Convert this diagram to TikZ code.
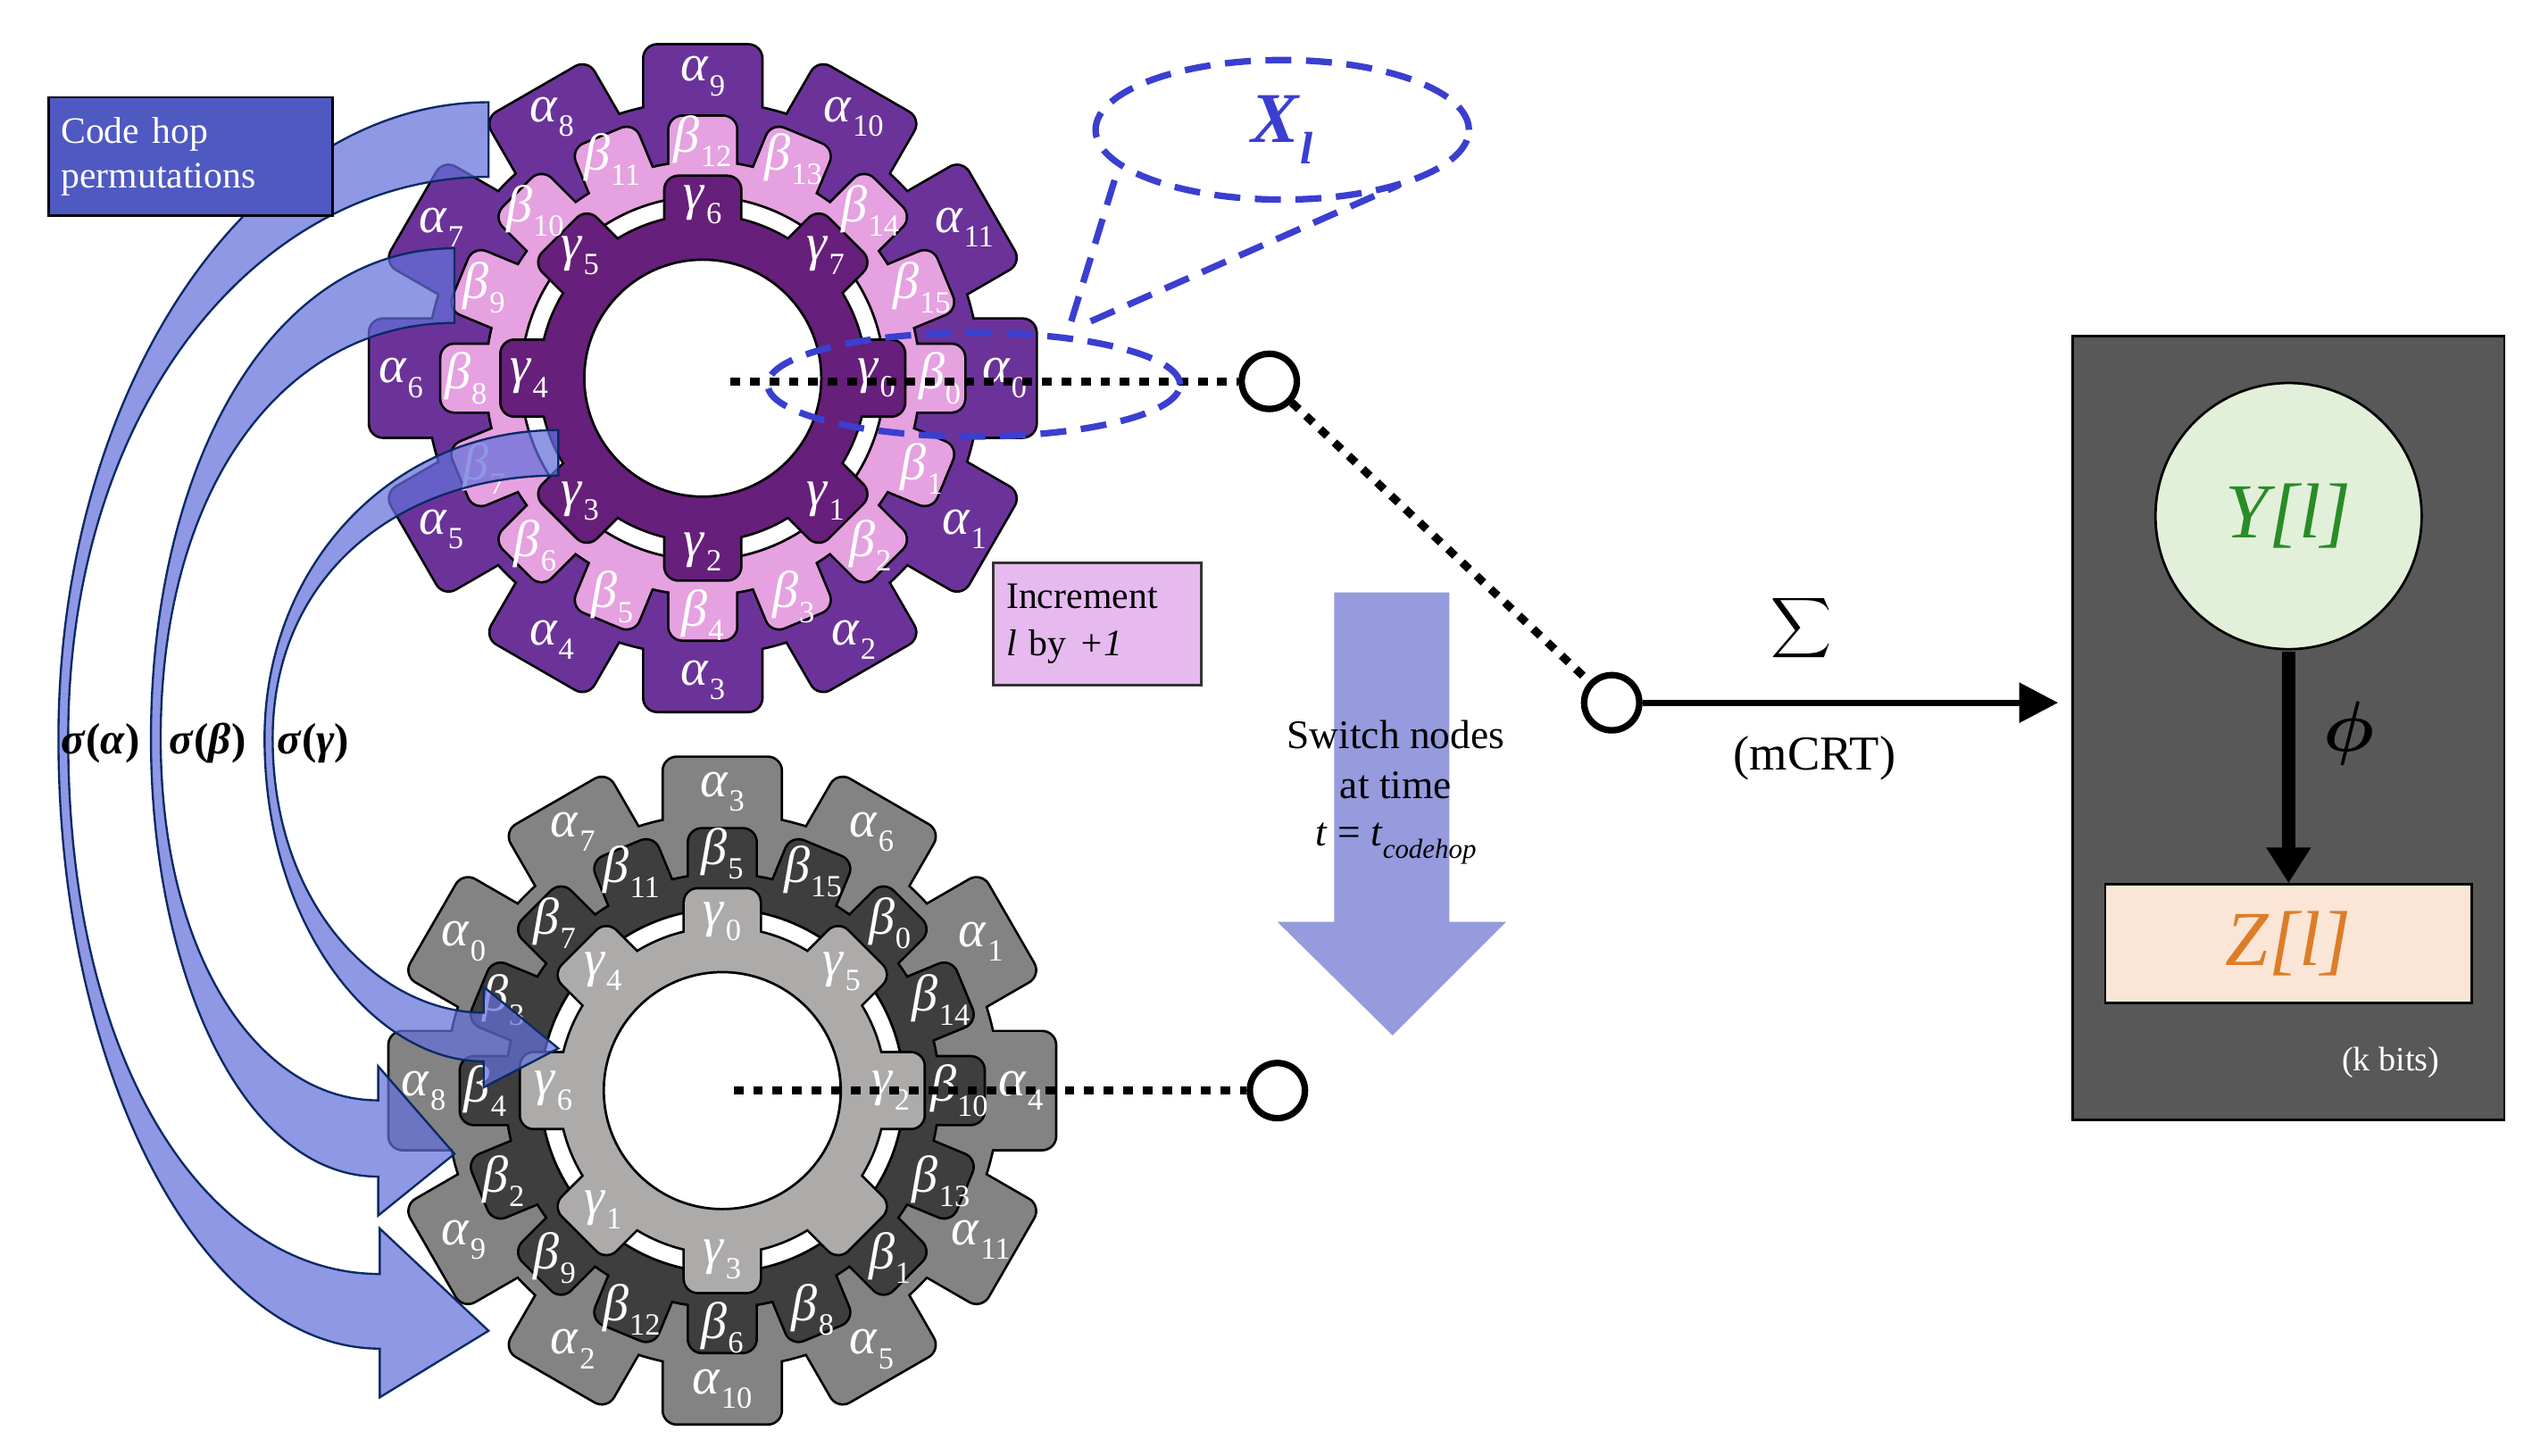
\RequirePackage{fix-cm}
\documentclass[tikz,border=0pt]{standalone}
\usepackage{amsmath,bm,graphicx}
\usepackage{fontspec}
\setmainfont{Liberation Serif}
\usetikzlibrary{arrows.meta,shapes.geometric}
\definecolor{pA}{HTML}{6B3399}
\definecolor{pB}{HTML}{E6A1E0}
\definecolor{pG}{HTML}{661F7A}
\definecolor{gA}{HTML}{838383}
\definecolor{gB}{HTML}{3E3E3E}
\definecolor{gG}{HTML}{ADAAAA}
\definecolor{dblue}{HTML}{3A3FD0}
\definecolor{abl}{HTML}{6470DA}
\definecolor{navy}{HTML}{0A2A64}
\definecolor{codebox}{RGB}{79,89,194}
\definecolor{incbox}{RGB}{230,185,239}
\definecolor{downar}{RGB}{149,155,220}
\definecolor{darkbox}{RGB}{88,88,88}
\definecolor{yfill}{RGB}{226,239,217}
\definecolor{ytext}{RGB}{40,140,40}
\definecolor{zfill}{RGB}{251,229,214}
\definecolor{ztext}{RGB}{220,125,40}
\newcommand\myring[6]{% cx cy diskr tipr width color ; teeth every angle in \teeth
  \foreach \a in \teeth {\begin{scope}[shift={(#1,#2)},rotate=-\a]
    \draw[line width=3pt,rounded corners=8pt] (#3-25,-#5/2) rectangle (#4,#5/2);\end{scope}}
  \draw[line width=3pt] (#1,#2) circle[radius=#3];
  \foreach \a in \teeth {\begin{scope}[shift={(#1,#2)},rotate=-\a]
    \fill[#6,rounded corners=8pt] (#3-25,-#5/2) rectangle (#4,#5/2);\end{scope}}
  \fill[#6] (#1,#2) circle[radius=#3];
}
\newcommand\gl[2]{\textit{#1}\kern0.5pt\raisebox{-0.28em}{\fontsize{19}{19}\selectfont #2}}
\tikzset{lab/.style={text=white,font=\fontsize{32}{32}\selectfont,inner sep=0pt},
 dotl/.style={line width=5pt,dash pattern=on 6pt off 6pt},
 dsh/.style={draw=dblue,line width=4pt,dash pattern=on 16pt off 9pt},
 band/.style={fill=abl,fill opacity=0.72,draw=navy,line width=1.3pt},
 txt/.style={font=\fontsize{23}{23}\selectfont,inner sep=0pt}}
\begin{document}
\begin{tikzpicture}[x=1pt,y=-1pt]
\useasboundingbox (0,0) rectangle (1560,897);
% ---- top gear
\def\teeth{0,30,...,330}\myring{433}{233}{170}{205}{72}{pA}
\def\teeth{0,22.5,...,337.5}\myring{433}{233}{133}{161}{41}{pB}
\filldraw[fill=white,line width=1.5pt] (433,233) circle[radius=112];
\def\teeth{0,45,...,315}\myring{433}{233}{100}{124}{46}{pG}
\filldraw[fill=white,line width=1.5pt] (433,233) circle[radius=73];
\foreach \i in {0,...,11} \node[lab] (ta\i) at ([shift={(30*\i:186)}]433,233) {\gl{α}{\i}};
\foreach \i in {0,...,15} \node[lab] (tb\i) at ([shift={(22.5*\i:146)}]433,233) {\gl{β}{\i}};
\foreach \i in {0,...,7} \node[lab] (tg\i) at ([shift={(45*\i:107)}]433,233) {\gl{γ}{\i}};
% ---- bottom gear
\def\teeth{0,30,...,330}\myring{445}{672}{170}{205}{72}{gA}
\def\teeth{0,22.5,...,337.5}\myring{445}{672}{133}{161}{41}{gB}
\filldraw[fill=white,line width=1.5pt] (445,672) circle[radius=112];
\def\teeth{0,45,...,315}\myring{445}{672}{100}{124}{46}{gG}
\filldraw[fill=white,line width=1.5pt] (445,672) circle[radius=73];
\foreach \n [count=\i from 0] in {3,6,1,4,11,5,10,2,9,8,0,7}
  \node[lab] (ba\n) at ([shift={(-90+30*\i:184)}]445,672) {\gl{α}{\n}};
\foreach \n [count=\i from 0] in {5,15,0,14,10,13,1,8,6,12,9,2,4,3,7,11}
  \node[lab] (bb\n) at ([shift={(-90+22.5*\i:146)}]445,672) {\gl{β}{\n}};
\foreach \n/\i in {0/0,5/1,2/2,3/4,1/5,6/6,4/7}
  \node[lab] (bg\n) at ([shift={(-90+45*\i:104)}]445,672) {\gl{γ}{\n}};
% ---- switch nodes and lines
\node[circle,draw,line width=4pt,minimum size=34pt,inner sep=0pt] (c1) at (782,235) {};
\node[circle,draw,line width=4pt,minimum size=34pt,inner sep=0pt] (c2) at (993,433) {};
\node[circle,draw,line width=4pt,minimum size=34pt,inner sep=0pt] (c3) at (787,672) {};
\coordinate (s1) at (450,235);
\coordinate (s3) at (452,672);
\draw[dotl] (s1) -- (c1.west);
\draw[dotl] (c1) -- (c2);
\draw[dotl] (s3) -- (c3.west);
% ---- ellipses
\node[ellipse,dsh,minimum width=254pt,minimum height=64pt] (e1) at (600,237) {};
\node[ellipse,dsh,minimum width=230pt,minimum height=86pt,text=dblue,font=\fontsize{44}{44}\selectfont] (e2) at (790,80) {\textbf{\textit{X}}\raisebox{-0.3em}{\fontsize{28}{28}\selectfont\textbf{\textit{l}}}};
\coordinate (d1) at (660,198); \coordinate (d1t) at (687,110);
\coordinate (d2) at (672,198); \coordinate (d2t) at (862,114);
\draw[dsh] (d1) -- (d1t);
\draw[dsh] (d2) -- (d2t);
% ---- permutation arrows
\draw[band] (301,63) .. controls (155,63) and (36,239) .. (36,455) .. controls (36,662) and (125,831) .. (234,831) -- (234,861) -- (301,820) -- (234,757) -- (234,785) .. controls (130,785) and (42,660) .. (42,455) .. controls (42,250) and (160,109) .. (301,109) -- cycle;
\draw[band] (280,153) .. controls (165,153) and (93,290) .. (93,455) .. controls (93,600) and (150,725) .. (233,725) -- (233,749) -- (280,711) -- (233,657) -- (233,678) .. controls (160,678) and (99,590) .. (99,455) .. controls (99,300) and (175,199) .. (280,199) -- cycle;
\draw[band] (344,265) .. controls (240,265) and (163,350) .. (163,455) .. controls (163,570) and (230,654) .. (298,654) -- (298,670) -- (344,646) -- (298,608) -- (298,624) .. controls (235,624) and (168,560) .. (168,455) .. controls (168,355) and (245,293) .. (344,293) -- cycle;
\node[font=\fontsize{27}{27}\selectfont\bfseries,inner sep=0pt] (sa) at (62,458) {\textit{σ}(\textit{α})};
\node[font=\fontsize{27}{27}\selectfont\bfseries,inner sep=0pt] (sb) at (128,458) {\textit{σ}(\textit{β})};
\node[font=\fontsize{27}{27}\selectfont\bfseries,inner sep=0pt] (sg) at (193,458) {\textit{σ}(\textit{γ})};
% ---- boxes
\node[draw,line width=1.5pt,fill=codebox,text=white,txt,align=left,minimum width=175pt,minimum height=73pt,text width=160pt] (code) at (117.5,96.5) {Code hop\\[5pt]permutations};
\node[draw=black!80,line width=1.5pt,fill=incbox,txt,align=left,minimum width=128pt,minimum height=75pt,text width=112pt] (inc) at (676,384.5) {Increment\\[6pt]\textit{l} by \textit{+1}};
% ---- down arrow
\fill[downar] (822,365) -- (893,365) -- (893,568) -- (928,568) -- (858,638) -- (787,568) -- (822,568) -- cycle;
\node[font=\fontsize{25}{25}\selectfont,align=center,inner sep=0pt] (sw) at (860,488) {Switch nodes\\[6pt]at time\\[4pt]\textit{t} = \textit{t}\raisebox{-0.3em}{\fontsize{17}{17}\selectfont\textit{codehop}}};
% ---- sum arrow
\draw[line width=4pt,-{Triangle[length=24pt,width=24pt]}] (c2) -- (1268,433);
\node[inner sep=0pt] (sum) at (1110,387) {\scalebox{2.6}{$\displaystyle\sum$}};
\node[font=\fontsize{30}{30}\selectfont] (mcrt) at (1118,467) {(mCRT)};
% ---- right box
\node[draw,line width=1.5pt,fill=darkbox,minimum width=266pt,minimum height=483pt] (rb) at (1410,448.5) {};
\node[circle,draw,line width=1.5pt,fill=yfill,minimum size=164pt,inner sep=0pt,text=ytext,font=\fontsize{48}{48}\selectfont] (y) at (1410,318) {\textit{Y[l]}};
\node[draw,line width=1.5pt,fill=zfill,minimum width=226pt,minimum height=73pt,inner sep=0pt,text=ztext,font=\fontsize{48}{48}\selectfont] (z) at (1410,581.5) {\textit{Z[l]}};
\draw[line width=8pt,-{Triangle[length=22pt,width=26pt]}] (y.south) ++(0,1) -- (z.north);
\node[font=\fontsize{44}{44}\selectfont,inner sep=0pt] (phi) at (1447,452) {$\bm{\phi}$};
\node[text=white,font=\fontsize{21}{21}\selectfont,inner sep=0pt] (kb) at (1473,655) {(k bits)};
\end{tikzpicture}
\end{document}
